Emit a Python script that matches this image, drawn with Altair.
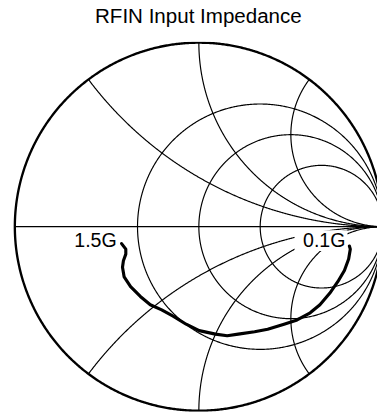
import numpy as np
import pandas as pd
import altair as alt

# ---- measured reflection coefficient (from 0.1 GHz to 1.5 GHz) ----
gamma_re = [0.818, 0.823, 0.814, 0.791, 0.755, 0.711, 0.658, 0.605, 0.534, 0.463,
            0.374, 0.303, 0.214, 0.154, 0.090, 0.002, -0.069, -0.140, -0.202, -0.264,
            -0.318, -0.371, -0.406, -0.415, -0.410, -0.397, -0.397, -0.420]
gamma_im = [-0.105, -0.122, -0.176, -0.238, -0.299, -0.362, -0.424, -0.468, -0.507, -0.530,
            -0.557, -0.571, -0.584, -0.593, -0.584, -0.565, -0.530, -0.486, -0.452, -0.424,
            -0.379, -0.326, -0.273, -0.220, -0.185, -0.149, -0.122, -0.092]
freq_labels = ["0.1G", "1.5G"]
title_text = "RFIN Input Impedance"

# ---- Smith chart grid values ----
resistance_values = [0.5, 1, 2]
reactance_values = [0.5, 1, 2, -0.5, -1, -2]

# build grid geometry
rows = []
eps = 1e-4
phi_full = np.linspace(-np.pi / 2 + eps, np.pi / 2 - eps, 900)
for r in resistance_values:
    z = r + 1j * np.tan(phi_full)
    g = (z - 1) / (z + 1)
    for i, v in enumerate(g):
        rows.append(("r%s" % r, i, v.real, v.imag))
phi_half = np.linspace(0, np.pi / 2 - eps, 500)
for x in reactance_values:
    z = np.tan(phi_half) + 1j * x
    g = (z - 1) / (z + 1)
    for i, v in enumerate(g):
        rows.append(("x%s" % x, i, v.real, v.imag))
rows.append(("x0", 0, -1.0, 0.0))
rows.append(("x0", 1, 1.0, 0.0))
grid = pd.DataFrame(rows, columns=["grp", "idx", "re", "im"])

z0 = 1j * np.tan(phi_full)
g0 = (z0 - 1) / (z0 + 1)
outer = pd.DataFrame({"idx": np.arange(len(g0)), "re": g0.real, "im": g0.imag})

curve = pd.DataFrame({"idx": np.arange(len(gamma_re)), "re": gamma_re, "im": gamma_im})
ends = pd.DataFrame({
    "label": freq_labels,
    "re": [gamma_re[0], gamma_re[-1]],
    "im": [gamma_im[0], gamma_im[-1]],
})

xs = alt.Scale(domain=[-1.0372, 0.9681], nice=False, zero=False)
ys = alt.Scale(domain=[-1.0053, 1.0053], nice=False, zero=False)
X = alt.X("re:Q", scale=xs, axis=None)
Y = alt.Y("im:Q", scale=ys, axis=None)

grid_layer = alt.Chart(grid).mark_line(color="black", strokeWidth=1.2, clip=True).encode(
    x=X, y=Y, detail="grp:N", order="idx:Q")
outer_layer = alt.Chart(outer).mark_line(color="black", strokeWidth=2.4, clip=True).encode(
    x=X, y=Y, order="idx:Q")
curve_layer = alt.Chart(curve).mark_line(color="black", strokeWidth=3.2, strokeJoin="round",
                                        strokeCap="round", clip=True).encode(
    x=X, y=Y, order="idx:Q")


def label_layers(lbl, box, dx, dy):
    base = alt.Chart(ends).transform_filter(alt.datum.label == lbl)
    rect = base.mark_rect(color="white", xOffset=box[0], x2Offset=box[1],
                          yOffset=box[2], y2Offset=box[3]).encode(
        x=X, x2="re:Q", y=Y, y2="im:Q")
    text = base.mark_text(align="right", baseline="alphabetic", dx=dx, dy=dy,
                          font="Liberation Sans", fontSize=20, color="black").encode(
        x=X, y=Y, text="label:N")
    return rect, text


r1, t1 = label_layers("0.1G", (-56, -2, -16, 5), -4, 1)
r2, t2 = label_layers("1.5G", (-51, -4, -12, 7), -5, 3)

chart = alt.layer(grid_layer, outer_layer, r1, r2, curve_layer, t1, t2).properties(
    width=377, height=378,
    title=alt.TitleParams(title_text, fontSize=21, font="Liberation Sans",
                          fontWeight="normal", color="black", anchor="middle",
                          baseline="alphabetic", offset=14, dx=6, dy=16),
    autosize=alt.AutoSizeParams(type="none"),
    padding={"left": 0, "top": 30, "right": 0, "bottom": 0},
).configure_view(stroke=None)

chart.save("out.html", embed_options={"renderer": "svg", "actions": False})
